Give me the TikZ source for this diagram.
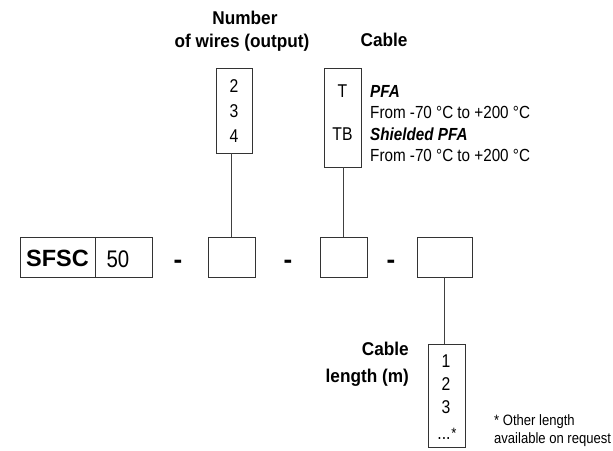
\documentclass[tikz,border=0pt]{standalone}
\usepackage{fontspec}
\setmainfont{Liberation Sans}[FakeStretch=0.87]
\newfontfamily\hdrfont{Liberation Sans}[FakeStretch=0.93]
\newfontfamily\widefont{Liberation Sans}
\newfontfamily\digfont{Liberation Sans}[FakeStretch=0.85]
\begin{document}
\begin{tikzpicture}[x=1pt,y=-1pt,
  bx/.style={draw=black!80, line width=0.9pt, inner sep=0pt},
  ln/.style={draw=black!75, line width=0.9pt},
  txt/.style={inner sep=0pt, anchor=base, font=\fontsize{17.5}{20}\selectfont},
  txtl/.style={txt, anchor=base west},
  txtbi/.style={txtl, font=\bfseries\itshape\fontsize{17.5}{20}\selectfont},
  dig/.style={inner sep=0pt, anchor=base, font=\digfont\fontsize{18.5}{20}\selectfont},
  hdr/.style={inner sep=0pt, anchor=base, font=\hdrfont\bfseries\fontsize{18.5}{20}\selectfont},
  hdrr/.style={hdr, anchor=base east},
  dsh/.style={inner sep=0pt, anchor=base, font=\widefont\bfseries\fontsize{26}{28}\selectfont},
  note/.style={inner sep=0pt, anchor=base west, font=\fontsize{15}{17}\selectfont}]
\useasboundingbox (0,0) rectangle (613,450);

% headers
\node[hdr] (h1a) at (245,24) {Number};
\node[hdr] (h1b) at (242,47) {of wires (output)};
\node[hdr] (h2) at (384,46) {Cable};
\node[hdrr] (h3a) at (409,355) {Cable};
\node[hdrr] (h3b) at (409,382) {length (m)};

% option boxes
\node[bx, minimum width=36pt, minimum height=85pt] (wires) at (234,110.5) {};
\node[dig] (w2) at (234,92) {2};
\node[dig] (w3) at (234,117) {3};
\node[dig] (w4) at (234,142) {4};

\node[bx, minimum width=37pt, minimum height=99pt] (cable) at (342.5,117.5) {};
\node[dig] (cT) at (342.5,97) {T};
\node[dig] (cTB) at (342.5,140) {TB};

\node[txtbi] (t1) at (370,97) {PFA};
\node[txtl] (t2) at (370,118) {From -70 °C to +200 °C};
\node[txtbi] (t3) at (370,140) {Shielded PFA};
\node[txtl] (t4) at (370,161) {From -70 °C to +200 °C};

\node[bx, minimum width=37pt, minimum height=103pt] (len) at (446.5,395.5) {};
\node[dig] (l1) at (446,367) {1};
\node[dig] (l2) at (446,390) {2};
\node[dig] (l3) at (446,413) {3};
\node[dig] (l4) at (444,439) {...};
\node[inner sep=0pt, font=\fontsize{15}{16}\selectfont] (lstar) at (454,433) {*};

\node[note] (n1) at (494,425) {* Other length};
\node[note] (n2) at (494,443) {available on request};

% code row
\node[bx, minimum width=75pt, minimum height=40pt] (sfsc) at (57.5,257) {};
\node[bx, minimum width=57pt, minimum height=40pt] (fifty) at (123.5,257) {};
\node[inner sep=0pt, anchor=base, font=\widefont\bfseries\fontsize{23.5}{26}\selectfont] (sfsct) at (57.5,266) {SFSC};
\node[inner sep=0pt, anchor=base, font=\digfont\fontsize{24}{26}\selectfont] (fiftyt) at (118,267) {50};

\node[dsh] (d1) at (178,268) {-};
\node[dsh] (d2) at (288,268) {-};
\node[dsh] (d3) at (391,268) {-};

\node[bx, minimum width=47pt, minimum height=40pt] (s1) at (231.5,257) {};
\node[bx, minimum width=47pt, minimum height=40pt] (s2) at (343.5,257) {};
\node[bx, minimum width=55pt, minimum height=40pt] (s3) at (444.5,257) {};

% connectors
\draw[ln] (s1.north) -- (s1.north |- wires.south);
\draw[ln] (s2.north) -- (s2.north |- cable.south);
\draw[ln] (s3.south) -- (s3.south |- len.north);
\end{tikzpicture}
\end{document}
